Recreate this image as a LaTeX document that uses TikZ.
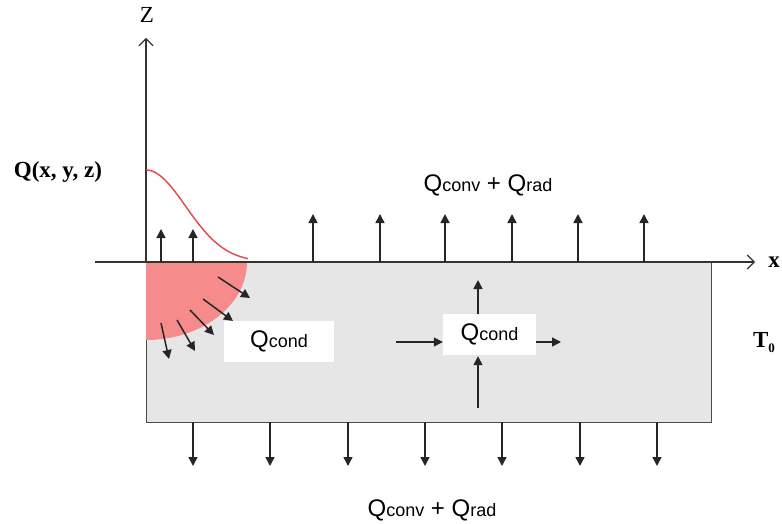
\documentclass[tikz,border=0pt]{standalone}
\usepackage{fontspec}
\setmainfont{Liberation Serif}
\newfontfamily\arialf{Liberation Sans}
\usetikzlibrary{arrows.meta}
\definecolor{heatred}{HTML}{F58B8B}
\definecolor{curvered}{HTML}{E8434A}
\definecolor{blockgray}{HTML}{E6E6E6}
\newcommand{\bigQ}[1]{{\arialf\fontsize{24}{28}\selectfont Q{\fontsize{18}{20}\selectfont #1}}}
\tikzset{
  flux/.style={line width=1.5pt, draw=black!85, -{Triangle[width=9pt,length=9pt]}},
  axisline/.style={line width=1.2pt, draw=black!80, -{Straight Barb[length=7pt,width=14pt,line width=1.2pt]}},
  labelbox/.style={fill=white, inner sep=0pt, minimum width=#1, minimum height=41pt},
  sans/.style={font=\arialf\fontsize{24}{28}\selectfont},
  serif/.style={font=\fontsize{23}{26}\selectfont},
  serifb/.style={font=\bfseries\fontsize{23}{26}\selectfont}
}
\begin{document}
\begin{tikzpicture}[x=1pt,y=-1pt]
\useasboundingbox (0,0) rectangle (782,524);
% workpiece block
\draw[fill=blockgray, draw=black!70, line width=1pt] (146,262) rectangle (711,422);
% heat affected zone
\fill[heatred] (146,262) -- (247,262) arc[start angle=0, end angle=90, x radius=101, y radius=78] -- cycle;
% axes
\coordinate (xstart) at (95,262);
\coordinate (xend) at (755,262);
\coordinate (zstart) at (146,262);
\coordinate (zend) at (146,38);
\draw[axisline] (xstart) -- (xend);
\draw[axisline] (zstart) -- (zend);
\node[serif] (zlab) at (147,15) {Z};
\node[serifb] (xlab) at (774,262) {x};
\node[serifb] (qlab) at (58,172) {Q(x, y, z)};
\node[serifb] (tlab) at (764,343) {T\raisebox{-5pt}{\fontsize{13}{14}\selectfont 0}};
% heat source distribution
\draw[curvered, line width=1.4pt] plot[domain=146:248, samples=60, smooth] (\x,{262-92*exp(-((\x-146)/56)^2)});
% small arrows under the source
\foreach \xx/\nm in {161/a, 193/b} {
  \coordinate (s\nm) at (\xx,262);
  \coordinate (e\nm) at (\xx,229);
  \draw[flux] (s\nm) -- (e\nm);
}
% top convection/radiation arrows
\foreach \xx/\nm in {313/a,380/b,445/c,512/d,578/e,644/f} {
  \coordinate (ts\nm) at (\xx,262);
  \coordinate (te\nm) at (\xx,214);
  \draw[flux] (ts\nm) -- (te\nm);
}
% bottom convection/radiation arrows
\foreach \xx/\nm in {193/a,270/b,348/c,425/d,502/e,580/f,657/g} {
  \coordinate (bs\nm) at (\xx,422);
  \coordinate (be\nm) at (\xx,466);
  \draw[flux] (bs\nm) -- (be\nm);
}
% diagonal conduction arrows
\foreach \ax/\ay/\bx/\by/\nm in {218/277/250/298/a, 203/299/233/321/b, 190/310/214/335/c, 177/320/195/351/d, 161/323/169/359/e} {
  \coordinate (ds\nm) at (\ax,\ay);
  \coordinate (de\nm) at (\bx,\by);
  \draw[flux] (ds\nm) -- (de\nm);
}
% labels
\node[sans] (top) at (488,185) {\bigQ{conv} + \bigQ{rad}};
\node[sans] (bot) at (432,510) {\bigQ{conv} + \bigQ{rad}};
\node[labelbox=110pt] (c1) at (279,341.5) {\bigQ{cond}};
\node[labelbox=93pt] (c2) at (489.5,334.5) {\bigQ{cond}};
% arrows around second Qcond
\coordinate (lin) at (396,342);
\coordinate (rout) at (561,342);
\coordinate (upt) at (478,280);
\coordinate (dnt) at (478,408);
\draw[flux] (lin) -- (c2.west |- lin);
\draw[flux] (c2.east |- rout) -- (rout);
\draw[flux] (c2.north -| upt) -- (upt);
\draw[flux] (dnt) -- ([yshift=-1pt]c2.south -| dnt);
\end{tikzpicture}
\end{document}
